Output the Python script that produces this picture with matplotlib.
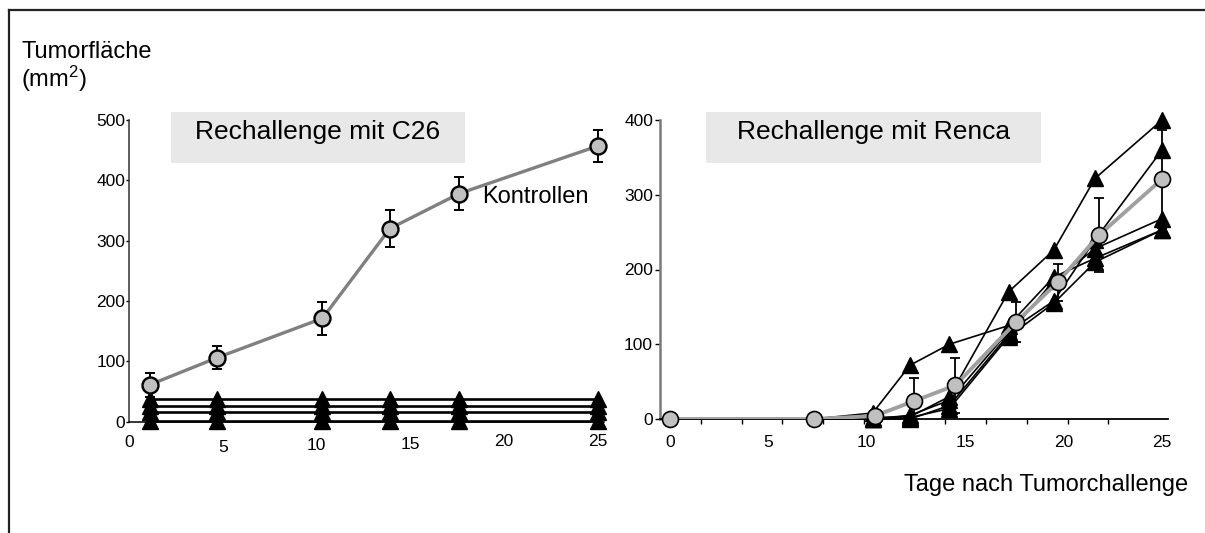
"""
Tumorfläche nach Rechallenge mit C26 bzw. Renca
"""

import matplotlib.pyplot as plt
import numpy as np
from matplotlib.lines import Line2D
from matplotlib.patches import Rectangle

plt.rcParams['font.family'] = ['Liberation Sans', 'DejaVu Sans']
plt.rcParams['mathtext.default'] = 'regular'

W, H = 1205, 533

# linke Seite: Rechallenge mit C26
c26_days = [1.1, 4.7, 10.3, 13.9, 17.6, 25.0]
c26_ctrl = [61, 106, 171, 320, 378, 457]
c26_ctrl_err = [20, 19, 28, 30, 27, 27]
c26_mice = [
    [38, 38, 38, 38, 38, 38],
    [26, 26, 26, 26, 26, 26],
    [15, 15, 15, 15, 15, 15],
    [1, 1, 1, 1, 1, 1],
]
c26_xticks = [0, 5, 10, 15, 20, 25]
c26_yticks = [0, 100, 200, 300, 400, 500]

# rechte Seite: Rechallenge mit Renca
renca_ctrl_days = [0, 7.3, 10.4, 12.4, 14.5, 17.6, 19.7, 21.8, 25.0]
renca_ctrl = [0, 0, 4, 24, 45, 130, 183, 246, 321]
renca_ctrl_err = [0, 0, 3, 31, 37, 27, 25, 50, 65]
renca_days = [7.3, 10.3, 12.2, 14.2, 17.2, 19.5, 21.6, 25.0]
renca_mice = [
    [0, 2, 3, 30, 170, 226, 322, 400],
    [0, 8, 72, 100, 125, 190, 215, 253],
    [0, 0, 5, 25, 117, 158, 240, 360],
    [0, 0, 0, 18, 113, 185, 228, 268],
    [0, 0, 2, 14, 110, 155, 210, 253],
]
renca_xticks = [0, 5, 10, 15, 20, 25]
renca_yticks = [0, 100, 200, 300, 400]


def px_box(x0, y0, x1, y1):
    """Pixelkoordinaten (oben links) -> figure fraction"""
    return [x0 / W, 1 - y1 / H, (x1 - x0) / W, (y1 - y0) / H]


fig = plt.figure(figsize=(W / 100, H / 100), dpi=100)

# Rahmen
fig.add_artist(Line2D([8.5 / W, 1.0], [1 - 10 / H, 1 - 10 / H], color='#222222', lw=1.6))
fig.add_artist(Line2D([8.5 / W, 8.5 / W], [1 - 10 / H, 0], color='#222222', lw=1.6))

# graue Titelkästen
for x0, x1 in [(171, 465), (706, 1041)]:
    b = px_box(x0, 112, x1, 163)
    fig.add_artist(Rectangle((b[0], b[1]), b[2], b[3], transform=fig.transFigure,
                             facecolor='#e8e8e8', edgecolor='none', zorder=0))

# ---- linke Achse
ax1 = fig.add_axes(px_box(129.3, 120, 603.6, 421.5))
ax1.set_xlim(0, 25.3)
ax1.set_ylim(0, 500)
ax1.patch.set_alpha(0)

ax1.errorbar(c26_days, c26_ctrl, yerr=c26_ctrl_err, fmt='none', ecolor='black',
             elinewidth=1.4, capsize=3.6, capthick=1.4, zorder=3)
for vals in c26_mice:
    ax1.plot(c26_days, vals, color='black', lw=1.9, marker='^', ms=11,
             mfc='black', mec='black', clip_on=False, zorder=4)
ax1.plot(c26_days, c26_ctrl, color='#808080', lw=2.4, zorder=5)
ax1.plot(c26_days, c26_ctrl, ls='none', marker='o', ms=11.5, mfc='#c0c0c0',
         mec='black', mew=1.7, zorder=6, clip_on=False)

for s in ['top', 'right']:
    ax1.spines[s].set_visible(False)
ax1.spines['left'].set_color('#333333')
ax1.spines['left'].set_linewidth(1.1)
ax1.spines['bottom'].set_linewidth(1.1)
ax1.set_yticks(c26_yticks)
ax1.tick_params(axis='y', direction='out', length=2.5, width=1, pad=0.5, labelsize=12.5)
ax1.set_xticks([])
# leicht versetzte x-Beschriftung wie im Original
c26_xtick_drop = [9.8, 13.4, 11.7, 11.0, 9.2, 9.2]
for d, drop in zip(c26_xticks, c26_xtick_drop):
    ax1.annotate(str(d), xy=(d, 0), xycoords=('data', 'axes fraction'),
                 xytext=(0, -drop), textcoords='offset points',
                 ha='center', va='top', fontsize=12.5)

# ---- rechte Achse
ax2 = fig.add_axes(px_box(660, 120, 1168, 419))
ax2.set_xlim(-0.5, 25.3)
ax2.set_ylim(0, 400)
ax2.patch.set_alpha(0)

ax2.errorbar(renca_ctrl_days, renca_ctrl, yerr=renca_ctrl_err, fmt='none', ecolor='black',
             elinewidth=1.3, capsize=3.4, capthick=1.3, zorder=3)
for vals in renca_mice:
    ax2.plot(renca_days, vals, color='black', lw=1.2, marker='^', ms=11,
             mfc='black', mec='black', markevery=list(range(1, len(renca_days))),
             clip_on=False, zorder=4)
ax2.plot(renca_ctrl_days, renca_ctrl, color='#a0a0a0', lw=2.8, zorder=5)
ax2.plot(renca_ctrl_days, renca_ctrl, ls='none', marker='o', ms=11.5, mfc='#c0c0c0',
         mec='black', mew=1.2, zorder=6, clip_on=False)

for s in ['top', 'right']:
    ax2.spines[s].set_visible(False)
ax2.spines['left'].set_color('#7a7a7a')
ax2.spines['left'].set_linewidth(1.8)
ax2.spines['bottom'].set_linewidth(1.3)
ax2.set_yticks(renca_yticks)
ax2.tick_params(axis='y', direction='out', length=3.5, width=1, pad=1.5, labelsize=12.5)
# Teilstriche wie im Original (Abstand ca. 2 Tage), Beschriftung separat
ax2.set_xticks(np.arange(1, 12) * 2.07 - 0.5)
ax2.set_xticklabels([])
ax2.tick_params(axis='x', which='major', direction='out', length=3.5, width=1)
ax2.set_xticks(renca_xticks, minor=True)
ax2.set_xticklabels([str(t) for t in renca_xticks], minor=True)
ax2.tick_params(axis='x', which='minor', length=0, pad=11.5, labelsize=12.5)

# ---- Texte
fig.text(21 / W, 1 - 58.3 / H, 'Tumorfläche', fontsize=17, va='baseline', ha='left')
fig.text(21 / W, 1 - 86.7 / H, '(mm$^2$)', fontsize=17, va='baseline', ha='left')
fig.text(317.5 / W, 1 - 139.3 / H, 'Rechallenge mit C26', fontsize=19, va='baseline', ha='center')
fig.text(873.5 / W, 1 - 139.3 / H, 'Rechallenge mit Renca', fontsize=19, va='baseline', ha='center')
fig.text(481.7 / W, 1 - 196.7 / H, 'Kontrollen', fontsize=17, va='center', ha='left')
fig.text(1188 / W, 1 - 491 / H, 'Tage nach Tumorchallenge', fontsize=17, va='baseline', ha='right')

fig.savefig('out.png', dpi=100)
